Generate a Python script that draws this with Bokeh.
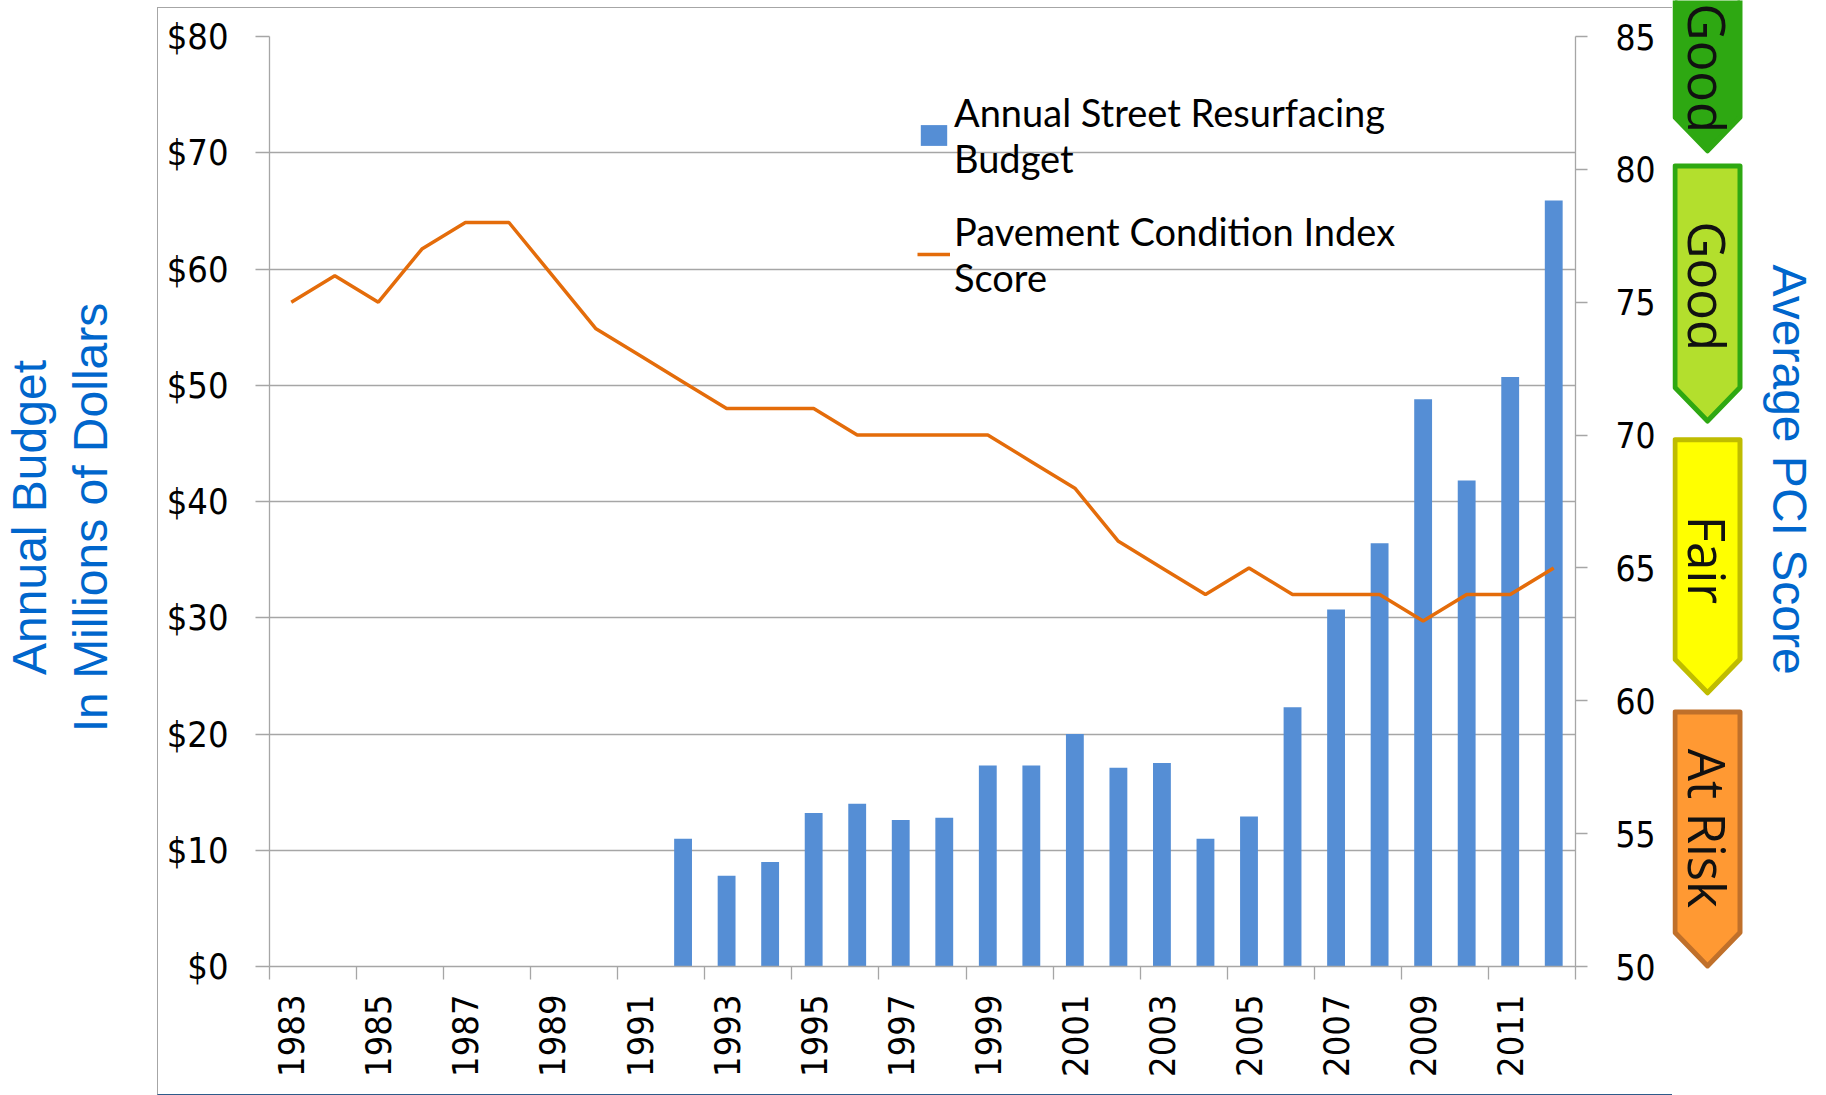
from math import pi
from bokeh.plotting import figure
from bokeh.models import (Range1d, LinearAxis, FixedTicker, NumeralTickFormatter,
                          Legend, LegendItem)
from bokeh.layouts import row, column
from bokeh.core.properties import value
from bokeh.embed import file_html
from bokeh.resources import INLINE

# ---------------- data ----------------
years = list(range(1983, 2013))
budget = [0, 0, 0, 0, 0, 0, 0, 0, 0,
          11.0, 7.8, 9.0, 13.2, 14.0, 12.6, 12.8, 17.3, 17.3, 20.0, 17.1,
          17.5, 11.0, 12.9, 22.3, 30.7, 36.4, 48.8, 41.8, 50.7, 65.9]
pci = [75, 76, 75, 77, 78, 78, 76, 74, 73, 72, 71, 71, 71, 70, 70, 70, 70,
       69, 68, 66, 65, 64, 65, 64, 64, 64, 63, 64, 64, 65]
tick_years = years[::2]
budget_ticks = list(range(0, 81, 10))
pci_ticks = list(range(50, 86, 5))
band_labels = ["Good", "Good", "Fair", "At Risk"]

# ---------------- styles ----------------
TICK_FONT = "DejaVu Sans Condensed"
GRID = "#a6a6a6"
BLUE_T = "#0066cc"
W, HT = 1826, 1095
BOX_TOP = 7                    # page y of the chart-area top border
P_H = HT - BOX_TOP - 2         # main figure height inside the bordered box
FRAME_TOP_PAGE, FRAME_H = 36, 930
LEFT_W = 157
P_W = 1514
P2_W = W - LEFT_W - 1 - P_W

# ---------------- main plot ----------------
p = figure(width=P_W, height=P_H, x_range=Range1d(1982.5, 2012.5), y_range=Range1d(0, 80),
           output_backend="svg", toolbar_location=None,
           min_border_left=111, min_border_right=P_W - 111 - 1306,
           min_border_top=FRAME_TOP_PAGE - BOX_TOP - 1,
           min_border_bottom=P_H - (FRAME_TOP_PAGE - BOX_TOP - 1) - FRAME_H,
           outline_line_color=None,
           background_fill_color="white", border_fill_color="white")
p.extra_y_ranges = {"pci": Range1d(50, 85)}

bars = p.vbar(x=years, top=budget, width=0.41, fill_color="#558ed5", line_color=None)
line = p.line(x=years, y=pci, y_range_name="pci", line_color="#e46c0a", line_width=3.5)

xa = p.xaxis[0]
xa.ticker = FixedTicker(ticks=tick_years, minor_ticks=[y - 0.5 for y in years[::2]] + [years[-1] + 0.5])
xa.major_tick_out = 0
xa.major_tick_in = 0
xa.minor_tick_out = 13
xa.minor_tick_in = 0
xa.minor_tick_line_color = GRID
xa.minor_tick_line_width = 1.3
xa.axis_line_color = GRID
xa.axis_line_width = 1.3
xa.major_label_orientation = pi / 2
xa.major_label_standoff = 15
xa.major_label_text_font = TICK_FONT
xa.major_label_text_font_size = "36px"
xa.major_label_text_color = "black"
xa.major_label_overrides = {y: str(y) for y in tick_years}

ya = p.yaxis[0]
ya.ticker = FixedTicker(ticks=budget_ticks)
ya.formatter = NumeralTickFormatter(format="$0")
ya.major_tick_out = 14
ya.major_tick_in = 0
ya.minor_tick_line_color = None
ya.major_tick_line_color = GRID
ya.major_tick_line_width = 1.3
ya.axis_line_color = GRID
ya.axis_line_width = 1.3
ya.major_label_standoff = 27
ya.major_label_text_font = TICK_FONT
ya.major_label_text_font_size = "36px"
ya.major_label_text_color = "black"

ra = LinearAxis(y_range_name="pci", ticker=FixedTicker(ticks=pci_ticks))
ra.major_tick_out = 12
ra.major_tick_in = 0
ra.minor_tick_line_color = None
ra.major_tick_line_color = GRID
ra.major_tick_line_width = 1.3
ra.axis_line_color = GRID
ra.axis_line_width = 1.3
ra.major_label_standoff = 28
ra.major_label_text_font = TICK_FONT
ra.major_label_text_font_size = "35px"
ra.major_label_text_color = "black"
p.add_layout(ra, "right")

p.xgrid.visible = False
p.ygrid.ticker = FixedTicker(ticks=budget_ticks)
p.ygrid.grid_line_color = GRID
p.ygrid.grid_line_width = 1.3

legend = Legend(items=[
    LegendItem(label="Annual Street Resurfacing\nBudget", renderers=[bars]),
    LegendItem(label="Pavement Condition Index\nScore", renderers=[line]),
], location=(648, 666))
legend.label_text_font = "Lato"
legend.label_text_font_size = "38px"
legend.label_text_line_height = 1.34
legend.label_text_color = "black"
legend.glyph_width = 33
legend.glyph_height = 26
legend.label_standoff = 4
legend.padding = 0
legend.margin = 0
legend.spacing = 27
legend.background_fill_alpha = 0
legend.border_line_alpha = 0
p.add_layout(legend, "center")

# ---------------- badges + right title ----------------
def pci_at(page_y):
    return 85 - (page_y - FRAME_TOP_PAGE) * 35.0 / FRAME_H

p2 = figure(width=P2_W, height=HT, x_range=Range1d(0, P2_W),
            y_range=Range1d(pci_at(HT), pci_at(0)),
            output_backend="svg", toolbar_location=None, min_border=0,
            x_axis_type=None, y_axis_type=None, outline_line_color=None,
            background_fill_color="white", border_fill_color="white")
p2.grid.visible = False

badge_top = [88.0, 80.13, 69.82, 59.58]
badge_tip = [80.7, 70.53, 60.3, 50.02]
arrow_h = 1.26
x0, x1 = 2.5, 67.5
xc = (x0 + x1) / 2
fills = ["#2ea812", "#b3df2d", "#ffff00", "#ff9933"]
edges = ["#2ea812", "#2ea812", "#bfbc00", "#c0702a"]
xs, ys = [], []
for t, b in zip(badge_top, badge_tip):
    xs.append([x0, x1, x1, xc, x0])
    ys.append([t, t, b + arrow_h, b, b + arrow_h])
p2.patches(xs=xs, ys=ys, fill_color=fills, line_color=edges, line_width=5, line_join="round")

text_y = [83.8, 75.6, 65.3, 55.2]
p2.text(x=[xc] * 4, y=text_y, text=band_labels, angle=-pi / 2,
        text_align="center", text_baseline="middle",
        text_font=value("Open Sans"), text_font_size="51px", text_color="#111111")
p2.text(x=[116.5], y=[68.7], text=["Average PCI Score"], angle=-pi / 2,
        text_align="center", text_baseline="middle",
        text_font=value("Liberation Sans"), text_font_size="48px", text_color=BLUE_T)

# ---------------- left title ----------------
p0 = figure(width=LEFT_W, height=HT, x_range=Range1d(0, LEFT_W), y_range=Range1d(HT, 0),
            output_backend="svg", toolbar_location=None, min_border=0,
            x_axis_type=None, y_axis_type=None, outline_line_color=None,
            background_fill_color="white", border_fill_color="white")
p0.grid.visible = False
p0.text(x=[29, 90], y=[517, 517], text=["Annual Budget", "In Millions of Dollars"],
        angle=pi / 2, text_align="center", text_baseline="middle",
        text_font=value("Liberation Sans"), text_font_size="48px", text_color=BLUE_T)

boxed = row(p, spacing=0, styles={"margin-top": f"{BOX_TOP}px",
                                  "border-top": "1px solid #a6a6a6",
                                  "border-left": "1px solid #a6a6a6",
                                  "border-bottom": "1px solid #2e5b8a"})
side = column(p2, spacing=0)
layout = row(p0, boxed, side, spacing=0)

open("out.html", "w").write(file_html(layout, INLINE))
